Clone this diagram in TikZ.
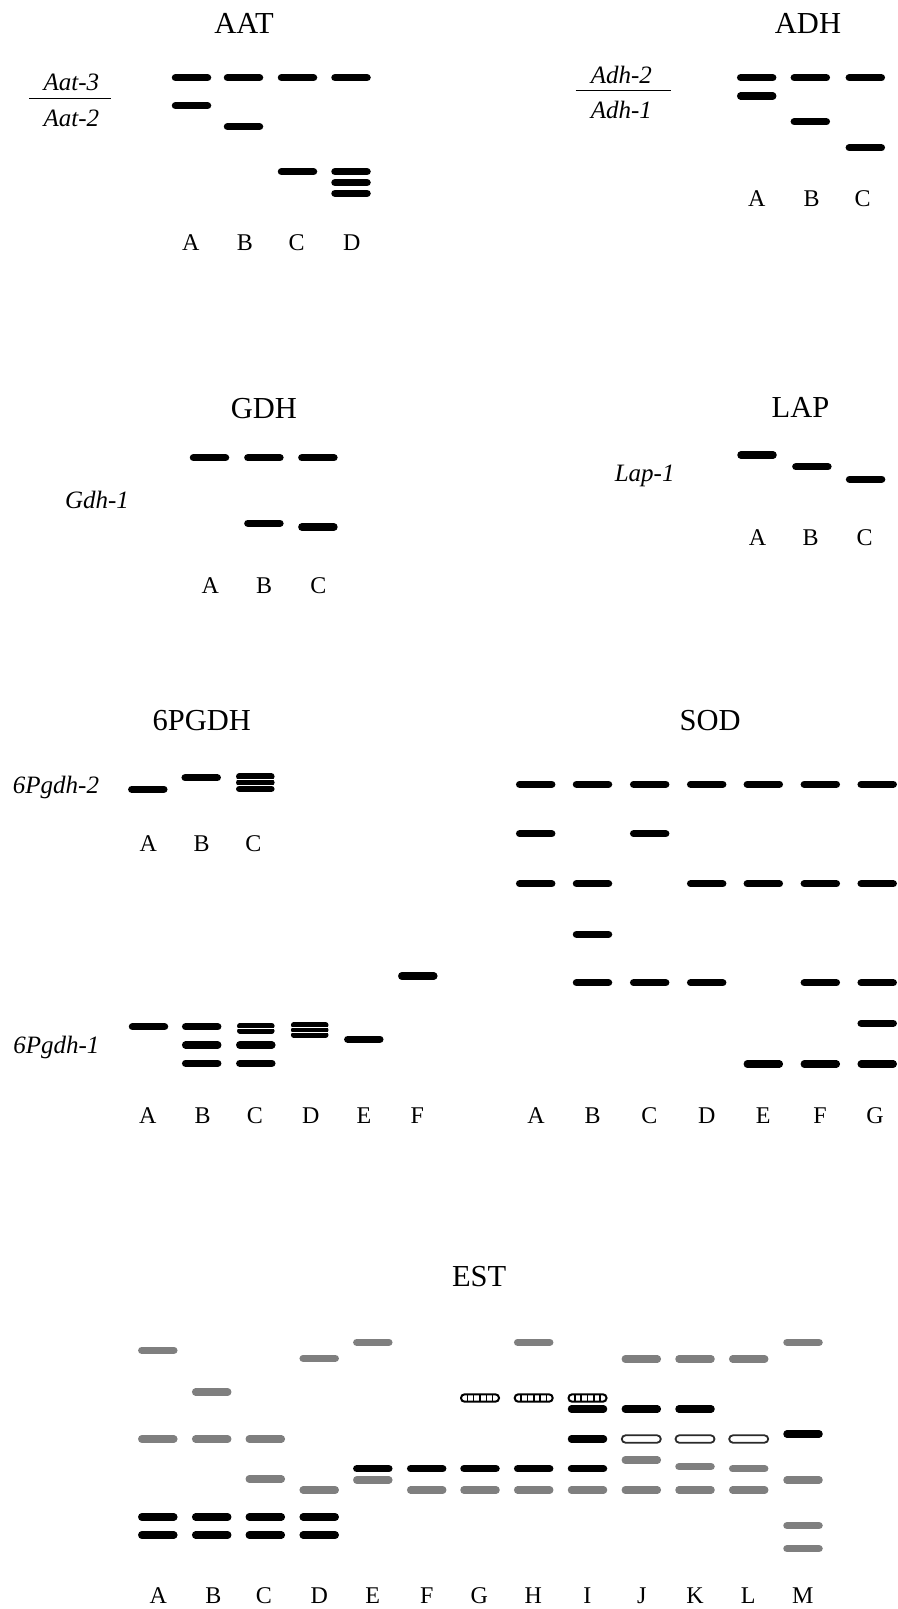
\documentclass[tikz,border=0pt]{standalone}
\usepackage{fontspec}
\setmainfont{Liberation Serif}
\definecolor{bandgray}{HTML}{7F7F7F}
\definecolor{ringgray}{HTML}{2A2A2A}

% solid black band, grey band, thin white gap between stacked bands
\newcommand\bandK[2]{\draw[bk] ({#1-16},#2) -- ({#1+16},#2);}
\newcommand\bandG[2]{\draw[gr] ({#1-16},#2) -- ({#1+16},#2);}
\newcommand\bandT[3]{\draw[bk,line width=#3] ({#1-16},#2) -- ({#1+16},#2);}
\newcommand\bandSep[2]{\draw[white,line width=0.9pt] ({#1-21},#2) -- ({#1+21},#2);}
% banded (ladder) and open bands
\newcommand\bandStriped[2]{%
  \draw[line width=2pt,fill=white,rounded corners=3.6pt]
    ({#1-19},{#2-3.7}) rectangle ({#1+19},{#2+3.7});
  \foreach \k in {1,...,5}
    \draw[line width=1.6pt] ({#1-19+\k*38/6},{#2-3.7}) -- ++(0,7.4);}
\newcommand\bandOpen[2]{%
  \draw[line width=1.8pt,draw=ringgray,fill=white,rounded corners=3.7pt]
    ({#1-19.5},{#2-3.7}) rectangle ({#1+19.5},{#2+3.7});}

\begin{document}
\begin{tikzpicture}[x=1pt,y=-1pt,
  bk/.style={line width=7.5pt,line cap=round,black},
  gr/.style={line width=7.5pt,line cap=round,bandgray},
  title/.style={font=\fontsize{30.5}{36}\selectfont,anchor=base,inner sep=0pt},
  lane/.style={font=\fontsize{24}{28}\selectfont,anchor=base,inner sep=0pt},
  locus/.style={font=\fontsize{25}{30}\selectfont\itshape,anchor=base,inner sep=0pt},
  rule/.style={line width=1pt,black}]
\useasboundingbox[fill=white] (0,0) rectangle (897,1609);

% ---------------- AAT ----------------
\node[title] (aat) at (244,33.3) {AAT};
\node[locus] (aat3) at (71.3,90.7) {Aat-3};
\node[locus] (aat2) at (71.3,126.7) {Aat-2};
\draw[rule] (29,98.7) -- (111,98.7);
\foreach \x in {191.5,243.5,297.5,351} {\bandK{\x}{77.7}}
\bandK{191.5}{105.7}
\bandK{243.5}{126.7}
\bandK{297.5}{171.7}
\bandK{351}{171.7}\bandK{351}{182.7}\bandK{351}{193.3}
\foreach \x/\l in {190.7/A,245/B,296.7/C,351.7/D}
  \node[lane] (aat-\l) at (\x,250) {\l};

% ---------------- ADH ----------------
\node[title] (adh) at (808,33.3) {ADH};
\node[locus] (adh2) at (621.3,83.3) {Adh-2};
\node[locus] (adh1) at (621.3,118.3) {Adh-1};
\draw[rule] (575.7,90.7) -- (670.7,90.7);
\foreach \x in {756.7,810.3,865.3} {\bandK{\x}{77.7}}
\bandK{756.7}{96}
\bandK{810.3}{121.7}
\bandK{865.3}{147.7}
\foreach \x/\l in {756.7/A,811.7/B,862.7/C}
  \node[lane] (adh-\l) at (\x,206.7) {\l};

% ---------------- GDH ----------------
\node[title] (gdh) at (263.9,418.3) {GDH};
\node[locus] (gdh1) at (97,508.3) {Gdh-1};
\foreach \x in {209.5,263.9,317.9} {\bandK{\x}{457.7}}
\bandK{263.9}{523.3}
\bandK{317.9}{527}
\foreach \x/\l in {210.4/A,264.2/B,318.5/C}
  \node[lane] (gdh-\l) at (\x,593.3) {\l};

% ---------------- LAP ----------------
\node[title] (lap) at (800.5,417.3) {LAP};
\node[locus] (lap1) at (644.7,481.7) {Lap-1};
\bandK{757}{455}
\bandK{811.9}{466.7}
\bandK{865.6}{479.3}
\foreach \x/\l in {757.6/A,810.7/B,864.5/C}
  \node[lane] (lap-\l) at (\x,545) {\l};

% ---------------- 6PGDH ----------------
\node[title] (pgdh) at (201.7,730) {6PGDH};
\node[locus] (pgdh2) at (56,793.3) {6Pgdh-2};
\node[locus] (pgdh1) at (56.3,1053.3) {6Pgdh-1};
% locus 2
\bandK{147.8}{789.3}
\bandK{201.2}{777.7}
\bandT{255.3}{776.3}{6.6pt}\bandT{255.3}{782.6}{6.6pt}\bandT{255.3}{788.9}{6.6pt}
\bandSep{255.3}{779.45}\bandSep{255.3}{785.75}
\foreach \x/\l in {148.3/A,201.7/B,253.3/C}
  \node[lane] (pg2-\l) at (\x,851.7) {\l};
% locus 1
\bandK{148.5}{1026.7}
\bandK{201.7}{1026.7}\bandK{201.7}{1045}\bandK{201.7}{1063.3}
\bandT{255.8}{1025.8}{5.6pt}\bandT{255.8}{1030.8}{5.6pt}
\bandSep{255.8}{1028.3}
\bandK{255.8}{1045}\bandK{255.8}{1063.3}
\bandT{309.7}{1025}{5.6pt}\bandT{309.7}{1030}{5.6pt}\bandT{309.7}{1035}{5.6pt}
\bandSep{309.7}{1027.5}\bandSep{309.7}{1032.5}
\bandK{363.8}{1039.3}
\bandK{417.8}{976}
\foreach \x/\l in {147.7/A,202.7/B,255/C,310.7/D,364/E,417.3/F}
  \node[lane] (pg1-\l) at (\x,1123.3) {\l};

% ---------------- SOD ----------------
\node[title] (sod) at (710.2,730) {SOD};
\foreach \x in {535.7,592.5,649.7,706.7,763.3,820.3,877.2} {\bandK{\x}{784.3}}
\bandK{535.7}{833.7}\bandK{649.7}{833.7}
\foreach \x in {535.7,592.5,706.7,763.3,820.3,877.2} {\bandK{\x}{883.7}}
\bandK{592.5}{934.3}
\foreach \x in {592.5,649.7,706.7,820.3,877.2} {\bandK{\x}{982.7}}
\bandK{877.2}{1023.3}
\foreach \x in {763.3,820.3,877.2} {\bandK{\x}{1064}}
\foreach \x/\l in {536/A,592.7/B,649.3/C,706.7/D,763.3/E,820/F,875/G}
  \node[lane] (sod-\l) at (\x,1123.3) {\l};

% ---------------- EST ----------------
\node[title] (est) at (479.2,1286.7) {EST};
% lane A
\bandG{157.8}{1350.3}\bandG{157.8}{1439}\bandK{157.8}{1517}\bandK{157.8}{1535}
% lane B
\bandG{211.7}{1392}\bandG{211.7}{1439}\bandK{211.7}{1517}\bandK{211.7}{1535}
% lane C
\bandG{265.3}{1439}\bandG{265.3}{1479}\bandK{265.3}{1517}\bandK{265.3}{1535}
% lane D
\bandG{319.2}{1358.3}\bandG{319.2}{1490}\bandK{319.2}{1517}\bandK{319.2}{1535}
% lane E
\bandG{372.8}{1342.3}\bandK{372.8}{1468.7}\bandG{372.8}{1480}
% lane F
\bandK{426.7}{1468.7}\bandG{426.7}{1490}
% lane G
\bandStriped{480}{1398}\bandK{480}{1468.7}\bandG{480}{1490}
% lane H
\bandG{533.7}{1342.3}\bandStriped{533.7}{1398}\bandK{533.7}{1468.7}\bandG{533.7}{1490}
% lane I
\bandStriped{587.5}{1398}\bandK{587.5}{1409}\bandK{587.5}{1439}\bandK{587.5}{1468.7}\bandG{587.5}{1490}
% lane J
\bandG{641.3}{1359}\bandK{641.3}{1409}\bandOpen{641.3}{1439}\bandG{641.3}{1460}\bandG{641.3}{1490}
% lane K
\bandG{695}{1359}\bandK{695}{1409}\bandOpen{695}{1439}\bandG{695}{1466.7}\bandG{695}{1490}
% lane L
\bandG{748.7}{1359}\bandOpen{748.7}{1439}\bandG{748.7}{1468.7}\bandG{748.7}{1490}
% lane M
\bandG{803}{1342.3}\bandK{803}{1434}\bandG{803}{1480}\bandG{803}{1525.7}\bandG{803}{1548.7}
\foreach \x/\l in {158.3/A,213.3/B,264/C,319.3/D,372.7/E,426.7/F,479.3/G,533.3/H,587.3/I,641.7/J,695/K,748.3/L,802.7/M}
  \node[lane] (est-\l) at (\x,1603.3) {\l};
\end{tikzpicture}
\end{document}
